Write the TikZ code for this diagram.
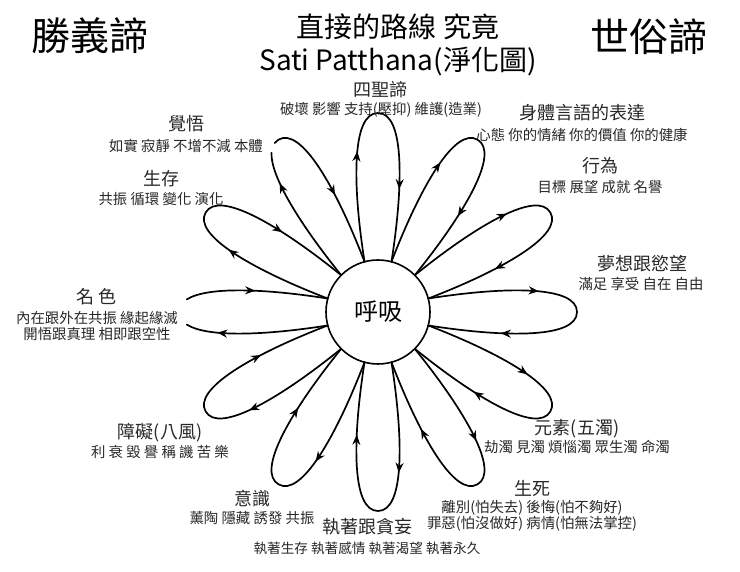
\documentclass[tikz,border=0pt]{standalone}
\usepackage{fontspec}
\setmainfont{Noto Sans CJK TC}
\usetikzlibrary{arrows.meta,decorations.markings,calc}
\definecolor{labelgray}{RGB}{40,40,40}
\tikzset{
  tip/.tip={Stealth[length=10pt,width=8pt]},
  petalline/.style={line width=1.7pt, line join=round, line cap=round},
  bothmarks/.style={postaction={decorate}, decoration={markings,
      mark=at position 111pt with {\arrow{tip}},
      mark=at position -73pt with {\arrow{tip}}}},
  outmark/.style={postaction={decorate}, decoration={markings,
      mark=at position 111pt with {\arrow{tip}}}},
  inmark/.style={postaction={decorate}, decoration={markings,
      mark=at position -73pt with {\arrow{tip}}}},
  lbl/.style={inner sep=0pt, anchor=center, text=labelgray},
  headtxt/.style={lbl, font=\fontsize{18}{20}\selectfont},
  subtxt/.style={lbl, font=\fontsize{14.4}{16}\selectfont},
  bigtxt/.style={inner sep=0pt, anchor=center, font=\fontsize{39}{41}\selectfont},
  titletxt/.style={inner sep=0pt, anchor=center, font=\fontsize{28}{30}\selectfont},
}
\newcommand{\fullpetal}[1]{%
  \pgfmathtruncatemacro\petA{mod(#1+15+360,360)}%
  \pgfmathtruncatemacro\petB{mod(#1-15+360,360)}%
  \pgfmathsetmacro\petC{#1+11.31}%
  \pgfmathsetmacro\petD{#1+7.44}%
  \pgfmathsetmacro\petE{#1-7.44}%
  \pgfmathsetmacro\petF{#1-11.31}%
  \draw[petalline,bothmarks] (breath.\petA)
    .. controls ($(breath.center)+(\petC:132.6pt)$) and ($(breath.center)+(\petD:200.7pt)$)
    .. ($(breath.center)+(#1:199pt)$)
    .. controls ($(breath.center)+(\petE:200.7pt)$) and ($(breath.center)+(\petF:132.6pt)$)
    .. (breath.\petB);}
\begin{document}
\begin{tikzpicture}[x=1pt,y=1pt]
\useasboundingbox (0,0) rectangle (740,572);
% centre
\node[draw, circle, line width=1.6pt, minimum size=104pt, inner sep=0pt, outer sep=0pt,
      font=\fontsize{24}{26}\selectfont] (breath) at (378,260) {呼吸};
% full petals
\foreach \a in {90,60,30,0,-30,-60,-90,-120,-150,150} {\fullpetal{\a}}
% open petal at 180
\draw[petalline,outmark] (breath.195)
  .. controls ($(breath.center)+(191.64:116.44pt)$) and ($(breath.center)+(188.48:172.86pt)$)
  .. ($(breath.center)+(183.77:191.6pt)$) coordinate (mA);
\draw[petalline,inmark] ($(breath.center)+(176.23:191.6pt)$) coordinate (mB)
  .. controls ($(breath.center)+(171.52:172.86pt)$) and ($(breath.center)+(168.36:116.44pt)$)
  .. (breath.165);
% open petal at 120
\draw[petalline,outmark] (breath.135)
  .. controls ($(breath.center)+(131.64:116.44pt)$) and ($(breath.center)+(128.48:172.86pt)$)
  .. ($(breath.center)+(123.77:191.6pt)$) coordinate (jA);
\draw[petalline,inmark] ($(breath.center)+(121.47:198.07pt)$) coordinate (jB)
  .. controls ($(breath.center)+(121.01:198.69pt)$) and ($(breath.center)+(120.52:199.01pt)$)
  .. ($(breath.center)+(120:199pt)$)
  .. controls ($(breath.center)+(112.56:200.7pt)$) and ($(breath.center)+(108.69:132.6pt)$)
  .. (breath.105);
% headings
\node[bigtxt] (shengyi) at (90,536) {勝義諦};
\node[bigtxt] (shisu) at (649,535) {世俗諦};
\node[titletxt] (title1) at (398,545) {直接的路線 究竟};
\node[titletxt] (title2) at (398,510) {Sati Patthana(淨化圖)};
% petal labels
\node[headtxt] (sisheng) at (380,482) {四聖諦};
\node[subtxt] (sishengS) at (381,462) {破壞 影響 支持(壓抑) 維護(造業)};
\node[headtxt] (shenti) at (582,459) {身體言語的表達};
\node[subtxt] (shentiS) at (582,437) {心態 你的情緒 你的價值 你的健康};
\node[headtxt] (xingwei) at (600,406) {行為};
\node[subtxt] (xingweiS) at (600,385) {目標 展望 成就 名譽};
\node[headtxt] (mengxiang) at (642,308) {夢想跟慾望};
\node[subtxt] (mengxiangS) at (641,288) {滿足 享受 自在 自由};
\node[headtxt] (yuansu) at (577,143) {元素(五濁)};
\node[subtxt] (yuansuS) at (577,125) {劫濁 見濁 煩惱濁 眾生濁 命濁};
\node[headtxt] (shengsi) at (532,83) {生死};
\node[subtxt] (shengsiS) at (532,64) {離別(怕失去) 後悔(怕不夠好)};
\node[subtxt] (shengsiT) at (532,48) {罪惡(怕沒做好) 病情(怕無法掌控)};
\node[headtxt] (zhizhu) at (367,45) {執著跟貪妄};
\node[subtxt, font=\fontsize{13.6}{15}\selectfont] (zhizhuS) at (367,24) {執著生存 執著感情 執著渴望 執著永久};
\node[headtxt] (yishi) at (252,73) {意識};
\node[subtxt] (yishiS) at (252,54) {薰陶 隱藏 誘發 共振};
\node[headtxt] (zhangai) at (160,139) {障礙(八風)};
\node[subtxt] (zhangaiS) at (160,120) {利 衰 毀 譽 稱 譏 苦 樂};
\node[headtxt] (mingse) at (97,275) {名 色};
\node[subtxt] (mingseS) at (97,254) {內在跟外在共振 緣起緣滅};
\node[subtxt] (mingseT) at (97,238) {開悟跟真理 相即跟空性};
\node[headtxt] (shengcun) at (161,393) {生存};
\node[subtxt] (shengcunS) at (161,373) {共振 循環 變化 演化};
\node[headtxt] (juewu) at (186,448) {覺悟};
\node[subtxt] (juewuS) at (186,426) {如實 寂靜 不增不減 本體};
\end{tikzpicture}
\end{document}
